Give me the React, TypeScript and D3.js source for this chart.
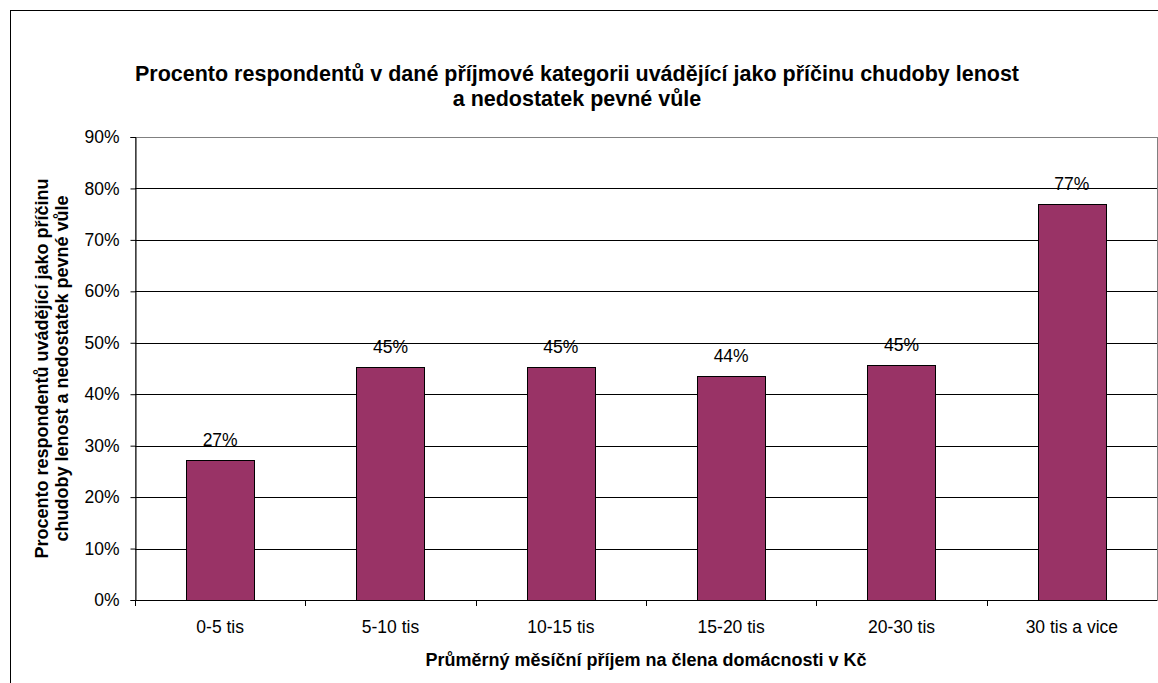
import React, { useEffect, useRef } from 'react';
import * as d3 from 'd3';

const categories = ['0-5 tis', '5-10 tis', '10-15 tis', '15-20 tis', '20-30 tis', '30 tis a vice'];
const values = [27.3, 45.3, 45.3, 43.6, 45.6, 76.9];
const valueLabels = ['27%', '45%', '45%', '44%', '45%', '77%'];
const yTicks = [0, 10, 20, 30, 40, 50, 60, 70, 80, 90];

const titleLines = [
  'Procento respondentů v dané příjmové kategorii uvádějící jako příčinu chudoby lenost',
  'a nedostatek pevné vůle',
];
const yTitleLines = [
  'Procento respondentů uvádějící jako příčinu',
  'chudoby lenost a nedostatek pevné vůle',
];
const xTitle = 'Průměrný měsíční příjem na člena domácnosti v Kč';

function App() {
  const svgRef = useRef<SVGSVGElement>(null);

  useEffect(() => {
    const svg = d3.select(svgRef.current);
    svg.selectAll('*').remove();
    const font = 'Arial, "Liberation Sans", sans-serif';

    const left = 135, right = 1157, top = 137, bottom = 600;

    const x = d3.scaleBand().domain(categories).range([left, right]).paddingInner(0.6).paddingOuter(0.3);
    const xBand = d3.scaleBand().domain(categories).range([left, right]);
    const y = d3.scaleLinear().domain([0, 90]).range([bottom, top]);

    // outer chart border
    svg.append('rect')
      .attr('x', 10.5).attr('y', 10.5)
      .attr('width', 1170).attr('height', 700)
      .attr('fill', 'white').attr('stroke', '#000').attr('stroke-width', 1);

    // title
    svg.append('g').selectAll('text')
      .data(titleLines)
      .enter()
      .append('text')
      .attr('x', 577)
      .attr('y', (d, i) => 81 + i * 25)
      .attr('text-anchor', 'middle')
      .attr('font-family', font)
      .attr('font-weight', 'bold')
      .attr('font-size', 21.5)
      .text((d) => d);

    // plot area border
    svg.append('rect')
      .attr('x', left + 0.5).attr('y', top + 0.5)
      .attr('width', right - left).attr('height', bottom - top)
      .attr('fill', 'white').attr('stroke', '#808080');

    // gridlines
    svg.append('g').selectAll('line')
      .data(yTicks.slice(1, -1))
      .enter()
      .append('line')
      .attr('x1', left).attr('x2', right)
      .attr('y1', (d) => Math.round(y(d)) + 0.5)
      .attr('y2', (d) => Math.round(y(d)) + 0.5)
      .attr('stroke', '#000')
      .attr('stroke-width', 1);

    // bars
    svg.append('g').selectAll('rect')
      .data(values)
      .enter()
      .append('rect')
      .attr('x', (d, i) => Math.round(x(categories[i])!) + 0.5)
      .attr('y', (d) => Math.round(y(d)) + 0.5)
      .attr('width', Math.round(x.bandwidth()))
      .attr('height', (d) => bottom - Math.round(y(d)))
      .attr('fill', '#993366')
      .attr('stroke', '#000')
      .attr('stroke-width', 1);

    // value labels
    svg.append('g').selectAll('text')
      .data(values)
      .enter()
      .append('text')
      .attr('x', (d, i) => x(categories[i])! + x.bandwidth() / 2)
      .attr('y', (d) => y(d) - 14)
      .attr('text-anchor', 'middle')
      .attr('font-family', font)
      .attr('font-size', 17.5)
      .attr('fill', '#000')
      .text((d, i) => valueLabels[i]);

    // y axis
    const yAxis = d3.axisLeft(y)
      .tickValues(yTicks)
      .tickSize(5)
      .tickPadding(11)
      .tickFormat((d) => `${d}%`);
    const gy = svg.append('g').attr('transform', `translate(${left + 0.5},0)`).call(yAxis);
    gy.select('.domain').attr('stroke', '#000');
    gy.selectAll('.tick line').attr('stroke', '#000');
    gy.selectAll('.tick text')
      .attr('font-family', font)
      .attr('font-size', 17.5)
      .attr('fill', '#000');

    // x axis
    svg.append('line')
      .attr('x1', left).attr('x2', right)
      .attr('y1', bottom + 0.5).attr('y2', bottom + 0.5)
      .attr('stroke', '#000');
    svg.append('g').selectAll('line')
      .data(categories)
      .enter()
      .append('line')
      .attr('x1', (d) => Math.round(xBand(d)!) + 0.5)
      .attr('x2', (d) => Math.round(xBand(d)!) + 0.5)
      .attr('y1', bottom)
      .attr('y2', bottom + 6)
      .attr('stroke', '#000');
    svg.append('g').selectAll('text')
      .data(categories)
      .enter()
      .append('text')
      .attr('x', (d) => xBand(d)! + xBand.bandwidth() / 2)
      .attr('y', 633)
      .attr('text-anchor', 'middle')
      .attr('font-family', font)
      .attr('font-size', 17.5)
      .attr('fill', '#000')
      .text((d) => d);

    // axis titles
    svg.append('text')
      .attr('x', (left + right) / 2)
      .attr('y', 666)
      .attr('text-anchor', 'middle')
      .attr('font-family', font)
      .attr('font-weight', 'bold')
      .attr('font-size', 18)
      .text(xTitle);

    svg.append('g').selectAll('text')
      .data(yTitleLines)
      .enter()
      .append('text')
      .attr('transform', (d, i) => `translate(${48 + i * 20},${(top + bottom) / 2}) rotate(-90)`)
      .attr('text-anchor', 'middle')
      .attr('font-family', font)
      .attr('font-weight', 'bold')
      .attr('font-size', 18)
      .text((d) => d);
  }, []);

  return (
    <svg ref={svgRef} width="1158" height="683" style={{ position: 'absolute', left: 0, top: 0 }} />
  );
}

export default App;
